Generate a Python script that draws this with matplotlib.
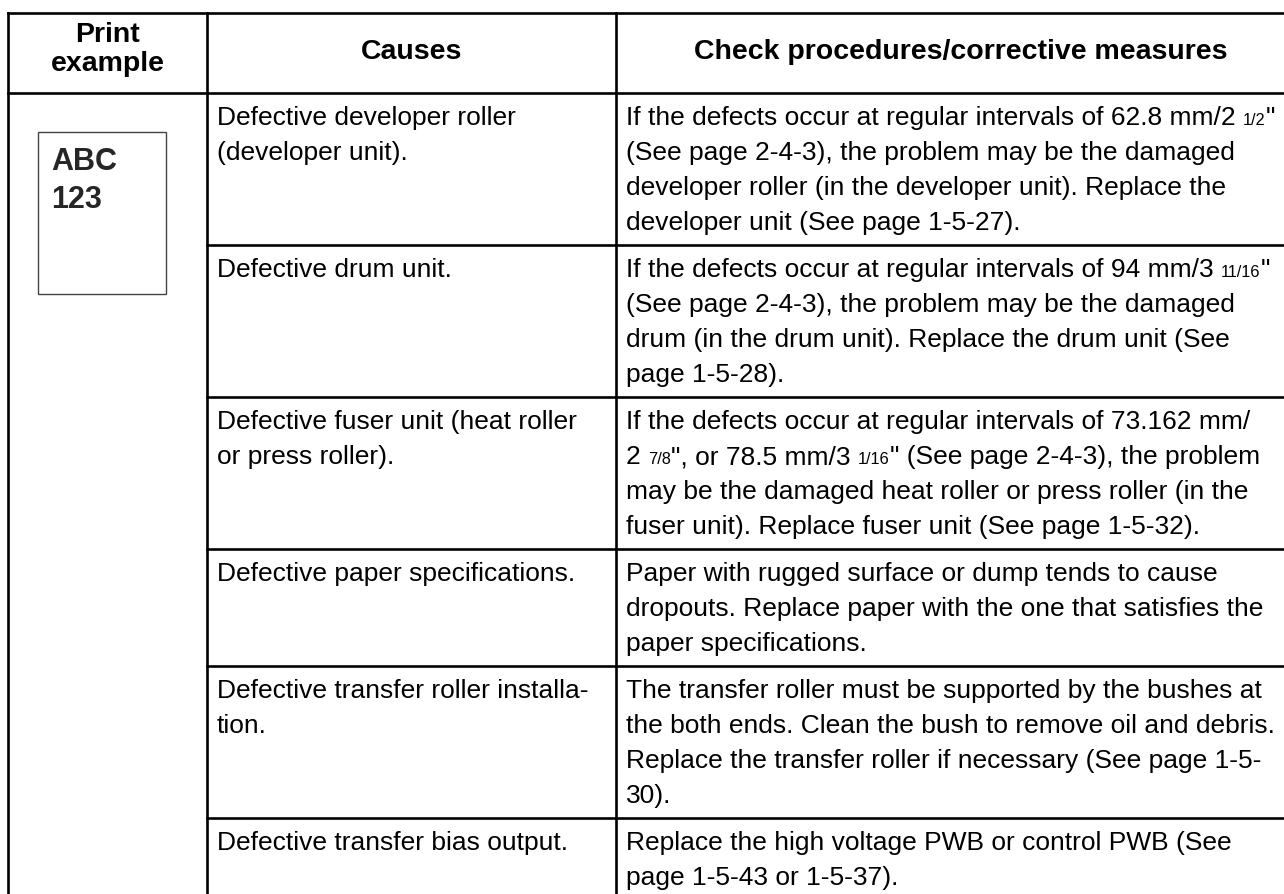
import re
import matplotlib
matplotlib.use("Agg")
import matplotlib.pyplot as plt
from matplotlib import font_manager

# ---------------- data ----------------
header_labels = [["Print", "example"], ["Causes"], ["Check procedures/corrective measures"]]

example_lines = ["ABC", "123"]

causes = [
    ["Defective developer roller", "(developer unit)."],
    ["Defective drum unit."],
    ["Defective fuser unit (heat roller", "or press roller)."],
    ["Defective paper specifications."],
    ["Defective transfer roller installa-", "tion."],
    ["Defective transfer bias output."],
]

# text in {braces} is set in the small fraction size
measures = [
    ['If the defects occur at regular intervals of 62.8 mm/2 {1/2}"',
     "(See page 2-4-3), the problem may be the damaged",
     "developer roller (in the developer unit). Replace the",
     "developer unit (See page 1-5-27)."],
    ['If the defects occur at regular intervals of 94 mm/3 {11/16}"',
     "(See page 2-4-3), the problem may be the damaged",
     "drum (in the drum unit). Replace the drum unit (See",
     "page 1-5-28)."],
    ["If the defects occur at regular intervals of 73.162 mm/",
     '2 {7/8}", or 78.5 mm/3 {1/16}" (See page 2-4-3), the problem',
     "may be the damaged heat roller or press roller (in the",
     "fuser unit). Replace fuser unit (See page 1-5-32)."],
    ["Paper with rugged surface or dump tends to cause",
     "dropouts. Replace paper with the one that satisfies the",
     "paper specifications."],
    ["The transfer roller must be supported by the bushes at",
     "the both ends. Clean the bush to remove oil and debris.",
     "Replace the transfer roller if necessary (See page 1-5-",
     "30)."],
    ["Replace the high voltage PWB or control PWB (See",
     "page 1-5-43 or 1-5-37)."],
]

# ---------------- layout ----------------
W, H = 1284, 894
col_x = [8, 207, 616, 1306]   # right border lies outside the cropped picture
table_top = 13
header_h = 80
line_pitch = 35
row_pad = 12
first_base = 32          # baseline of first line below row top
pad_x = 10
box = (38, 132, 128, 162)  # print example sheet

names = {f.name for f in font_manager.fontManager.ttflist}
if "Liberation Sans Narrow" in names:
    BODY_FAMILY, BODY_SIZE = "Liberation Sans Narrow", 23
else:
    BODY_FAMILY, BODY_SIZE = "Liberation Sans", 19
HEAD_FAMILY, HEAD_SIZE = "Liberation Sans", 20.5
FRAC_SCALE = 0.62

fig = plt.figure(figsize=(W / 100, H / 100), dpi=100)
fig.patch.set_facecolor("white")
ax = fig.add_axes([0, 0, 1, 1])
ax.set_xlim(0, W)
ax.set_ylim(H, 0)
ax.axis("off")
renderer = fig.canvas.get_renderer()


def text_width(s, **kw):
    if not s:
        return 0.0
    t = ax.text(0, 0, s, **kw)
    w = t.get_window_extent(renderer).width
    t.remove()
    return w


space_w = {}


def seg_width(s, **kw):
    key = (kw.get("fontsize"), kw.get("family"))
    if key not in space_w:
        space_w[key] = text_width("a a", **kw) - text_width("aa", **kw)
    core = s.strip(" ")
    lead = len(s) - len(s.lstrip(" "))
    trail = len(s) - len(s.rstrip(" "))
    return text_width(core, **kw) + (lead + trail) * space_w[key], lead * space_w[key]


def draw_line(x, y, line):
    parts = re.split(r"\{([^}]*)\}", line)
    for i, p in enumerate(parts):
        if not p:
            continue
        size = BODY_SIZE * (FRAC_SCALE if i % 2 else 1)
        kw = dict(fontsize=size, family=BODY_FAMILY)
        w, lead = seg_width(p, **kw)
        ax.text(x + lead, y, p.strip(" "), ha="left", va="baseline", color="black", **kw)
        x += w


# rows
n_lines = [max(len(c), len(m)) for c, m in zip(causes, measures)]
row_tops = [table_top + header_h]
for n in n_lines:
    row_tops.append(row_tops[-1] + n * line_pitch + row_pad)

LW = 1.9
ax.plot([col_x[0], col_x[-1]], [table_top, table_top], color="black", lw=LW, solid_capstyle="projecting")
for x in col_x:
    ax.plot([x, x], [table_top, H + 5], color="black", lw=LW, solid_capstyle="projecting")
ax.plot([col_x[0], col_x[-1]], [row_tops[0], row_tops[0]], color="black", lw=LW)
for y in row_tops[1:]:
    ax.plot([col_x[1], col_x[-1]], [y, y], color="black", lw=LW)

# header
head_base_single = table_top + 46
head_base_double = [table_top + 29, table_top + 58]
for ci, lab in enumerate(header_labels):
    cx = (col_x[ci] + col_x[ci + 1]) / 2
    bases = [head_base_single] if len(lab) == 1 else head_base_double
    for s, yb in zip(lab, bases):
        ax.text(cx, yb, s, ha="center", va="baseline", fontsize=HEAD_SIZE,
                family=HEAD_FAMILY, fontweight="bold", color="black")

# body
for r, (c_lines, m_lines) in enumerate(zip(causes, measures)):
    top = row_tops[r]
    for li, s in enumerate(c_lines):
        draw_line(col_x[1] + pad_x, top + first_base + li * line_pitch, s)
    for li, s in enumerate(m_lines):
        draw_line(col_x[2] + pad_x, top + first_base + li * line_pitch, s)

# print example sheet
bx, by, bw, bh = box
ax.add_patch(plt.Rectangle((bx, by), bw, bh, fill=False, edgecolor="#444444", lw=1.0))
for li, s in enumerate(example_lines):
    ax.text(bx + 13, by + 38 + li * 38, s, ha="left", va="baseline", fontsize=22,
            family=HEAD_FAMILY, fontweight="bold", color="#262626")

fig.savefig("out.png", dpi=100, facecolor="white")
